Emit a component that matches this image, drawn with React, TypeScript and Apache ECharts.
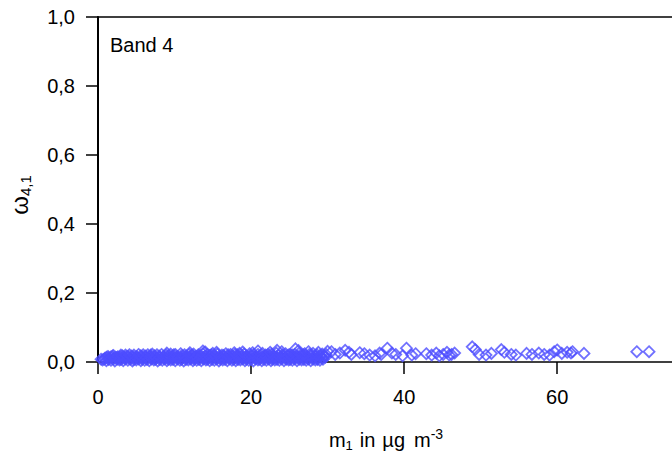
import { useEffect, useRef } from 'react';
import * as echarts from 'echarts';

// axis ranges and tick steps
const xRange = [0, 75];
const xStep = 20;
const yRange = [0, 1];
const yStep = 0.2;
const panelLabel = 'Band 4';

const cloudLow: number[][] = [
  [0.6, 0.006], [1.1, 0.004], [1.7, 0.005], [2.2, 0.003], [2.8, 0.006], [3.3, 0.004], [3.9, 0.005], [4.5, 0.003],
  [5.0, 0.006], [5.6, 0.004], [6.1, 0.005], [6.7, 0.004], [7.3, 0.006], [7.8, 0.003], [8.4, 0.005], [9.0, 0.004],
  [9.5, 0.006], [10.1, 0.004], [10.7, 0.005], [11.2, 0.003], [11.8, 0.006], [12.4, 0.004], [12.9, 0.005], [13.5, 0.004],
  [14.1, 0.006], [14.6, 0.004], [15.2, 0.005], [15.8, 0.003], [16.3, 0.006], [16.9, 0.004], [17.5, 0.005], [18.0, 0.004],
  [18.6, 0.006], [19.2, 0.004], [19.7, 0.005], [20.3, 0.003], [20.9, 0.006], [21.4, 0.004], [22.0, 0.005], [22.6, 0.004],
  [23.1, 0.006], [23.7, 0.005], [24.3, 0.004], [24.9, 0.006], [25.4, 0.005], [26.0, 0.004], [26.6, 0.006], [27.2, 0.005],
  [27.8, 0.004], [28.4, 0.006], [29.0, 0.005],
];
const cloudLow2: number[][] = [
  [0.4, 0.008], [0.8, 0.008], [1.4, 0.007], [2.0, 0.009], [2.5, 0.008], [3.0, 0.007], [3.6, 0.009], [4.2, 0.008],
  [4.7, 0.007], [5.3, 0.009], [5.8, 0.008], [6.4, 0.007], [7.0, 0.009], [7.5, 0.008], [8.1, 0.007], [8.7, 0.009],
  [9.2, 0.008], [9.8, 0.007], [10.4, 0.009], [10.9, 0.008], [11.5, 0.007], [12.1, 0.009], [12.6, 0.008], [13.2, 0.007],
  [13.8, 0.009], [14.3, 0.008], [14.9, 0.007], [15.5, 0.009], [16.0, 0.008], [16.6, 0.007], [17.2, 0.009], [17.7, 0.008],
  [18.3, 0.007], [18.9, 0.009], [19.4, 0.008], [20.0, 0.007], [20.6, 0.009], [21.1, 0.008], [21.7, 0.007], [22.3, 0.009],
  [22.8, 0.008], [23.4, 0.007], [24.0, 0.009], [24.6, 0.008], [25.1, 0.007], [25.7, 0.009], [26.3, 0.008], [26.9, 0.007],
  [27.5, 0.009], [28.1, 0.008], [28.7, 0.007], [29.4, 0.008],
];
const cloudMid: number[][] = [
  [0.9, 0.011], [1.4, 0.012], [2.0, 0.010], [2.5, 0.013], [3.1, 0.011], [3.6, 0.012], [4.2, 0.010], [4.8, 0.012],
  [5.3, 0.011], [5.9, 0.013], [6.4, 0.010], [7.0, 0.012], [7.6, 0.011], [8.1, 0.013], [8.7, 0.010], [9.3, 0.012],
  [9.8, 0.011], [10.4, 0.013], [11.0, 0.010], [11.5, 0.012], [12.1, 0.011], [12.7, 0.013], [13.2, 0.010], [13.8, 0.012],
  [14.4, 0.011], [14.9, 0.013], [15.5, 0.010], [16.1, 0.012], [16.6, 0.011], [17.2, 0.013], [17.8, 0.010], [18.3, 0.012],
  [18.9, 0.011], [19.5, 0.013], [20.0, 0.010], [20.6, 0.012], [21.2, 0.011], [21.7, 0.013], [22.3, 0.010], [22.9, 0.012],
  [23.4, 0.011], [24.0, 0.013], [24.6, 0.010], [25.2, 0.012], [25.7, 0.011], [26.3, 0.013], [26.9, 0.012], [27.5, 0.010],
  [28.1, 0.012], [28.7, 0.011], [29.3, 0.012],
];
const cloudMid2: number[][] = [
  [1.1, 0.014], [1.7, 0.015], [2.3, 0.014], [2.9, 0.015], [3.4, 0.014], [4.0, 0.015], [4.6, 0.014], [5.1, 0.015],
  [5.7, 0.014], [6.3, 0.015], [6.9, 0.014], [7.4, 0.015], [8.0, 0.014], [8.6, 0.015], [9.1, 0.014], [9.7, 0.015],
  [10.3, 0.014], [10.8, 0.015], [11.4, 0.014], [12.0, 0.015], [12.5, 0.014], [13.1, 0.015], [13.7, 0.014], [14.2, 0.015],
  [14.8, 0.014], [15.4, 0.015], [15.9, 0.014], [16.5, 0.015], [17.1, 0.014], [17.6, 0.015], [18.2, 0.014], [18.8, 0.015],
  [19.3, 0.014], [19.9, 0.015], [20.5, 0.014], [21.0, 0.015], [21.6, 0.014], [22.2, 0.015], [22.7, 0.014], [23.3, 0.015],
  [23.9, 0.014], [24.4, 0.015], [25.0, 0.014], [25.6, 0.015], [26.1, 0.014], [26.7, 0.015], [27.3, 0.014], [27.9, 0.015],
  [28.5, 0.014], [29.1, 0.015], [29.7, 0.014],
];
const cloudHigh: number[][] = [
  [1.3, 0.016], [1.9, 0.017], [2.6, 0.015], [3.2, 0.018], [3.8, 0.016], [4.4, 0.017], [5.0, 0.015], [5.6, 0.018],
  [6.2, 0.017], [6.8, 0.016], [7.4, 0.018], [8.0, 0.017], [8.6, 0.016], [9.2, 0.019], [9.8, 0.017], [10.4, 0.016],
  [11.0, 0.018], [11.6, 0.017], [12.2, 0.019], [12.8, 0.016], [13.4, 0.018], [14.0, 0.017], [14.6, 0.019], [15.2, 0.018],
  [15.8, 0.016], [16.4, 0.019], [17.0, 0.017], [17.6, 0.018], [18.2, 0.016], [18.8, 0.019], [19.4, 0.017], [20.0, 0.018],
  [20.6, 0.016], [21.2, 0.019], [21.8, 0.017], [22.4, 0.018], [23.0, 0.016], [23.6, 0.019], [24.2, 0.017], [24.8, 0.018],
  [25.4, 0.020], [26.0, 0.017], [26.6, 0.019], [27.2, 0.018], [27.8, 0.020], [28.4, 0.017], [29.0, 0.019], [29.6, 0.018],
];
const cloudUpper: number[][] = [
  [2.0, 0.019], [3.6, 0.020], [4.7, 0.020], [5.9, 0.021], [6.9, 0.020], [7.7, 0.021], [8.9, 0.020], [9.9, 0.021],
  [11.3, 0.021], [12.3, 0.020], [13.1, 0.021], [14.8, 0.021], [16.2, 0.020], [17.0, 0.021], [17.9, 0.022], [18.2, 0.021],
  [20.3, 0.021], [21.9, 0.020], [22.2, 0.022], [24.1, 0.021], [24.9, 0.020], [25.7, 0.022], [26.8, 0.021], [27.6, 0.022],
  [28.6, 0.021], [29.8, 0.022],
];
const cloudTop: number[][] = [
  [3.0, 0.020], [4.1, 0.021], [5.3, 0.022], [6.5, 0.021], [7.1, 0.023], [8.3, 0.022], [9.5, 0.023], [10.1, 0.022],
  [10.8, 0.024], [11.9, 0.022], [12.5, 0.023], [13.7, 0.024], [14.3, 0.022], [15.0, 0.025], [15.6, 0.023], [16.7, 0.024],
  [17.3, 0.022], [18.5, 0.025], [19.1, 0.023], [19.8, 0.024], [20.9, 0.022], [21.5, 0.025], [22.7, 0.023], [23.3, 0.026],
  [24.5, 0.024], [25.1, 0.022], [26.3, 0.026], [27.0, 0.024], [28.1, 0.025], [29.3, 0.023],
];
const cloudPeaks: number[][] = [
  [9.0, 0.026], [12.0, 0.027], [13.7, 0.032], [14.0, 0.029], [15.5, 0.028], [17.8, 0.027], [18.9, 0.029], [20.2, 0.027],
  [20.9, 0.032], [22.5, 0.028], [23.4, 0.034], [24.0, 0.030], [25.8, 0.038], [26.2, 0.033], [27.5, 0.030], [28.8, 0.028],
  [30.0, 0.031],
];
// sparse tail at higher mass concentrations
const sparseTail: number[][] = [
  [30.5, 0.030], [31.0, 0.022], [31.6, 0.026], [32.3, 0.034], [32.8, 0.028], [33.1, 0.022], [34.2, 0.027], [34.8, 0.024],
  [35.5, 0.020], [36.2, 0.018], [36.8, 0.026], [37.0, 0.022], [37.8, 0.040], [38.4, 0.026], [38.9, 0.022], [39.8, 0.018],
  [40.3, 0.040], [41.0, 0.020], [41.5, 0.024], [42.9, 0.024], [43.6, 0.020], [44.2, 0.026], [44.6, 0.018], [45.1, 0.022],
  [45.6, 0.028], [45.9, 0.020], [46.2, 0.022], [46.6, 0.026], [48.9, 0.044], [49.3, 0.036], [49.8, 0.022], [50.7, 0.020],
  [51.4, 0.025], [52.7, 0.036], [53.1, 0.028], [54.0, 0.022], [54.6, 0.020], [56.0, 0.025], [56.7, 0.022], [57.6, 0.026],
  [58.3, 0.022], [59.0, 0.020], [59.6, 0.030], [60.0, 0.035], [60.6, 0.025], [61.3, 0.028], [61.8, 0.026], [62.0, 0.030],
  [63.5, 0.025], [70.4, 0.030], [72.0, 0.030],
];

const FONT = '"Liberation Sans", Arial, Helvetica, sans-serif';
const MARK = '#4d4dff';

export default function App() {
  const ref = useRef<HTMLDivElement>(null);
  useEffect(() => {
    if (!ref.current) return;
    const chart = echarts.init(ref.current, null, { renderer: 'svg' });
    const data = [
      ...cloudLow, ...cloudLow2, ...cloudMid, ...cloudMid2, ...cloudHigh,
      ...cloudUpper, ...cloudTop, ...cloudPeaks, ...sparseTail,
    ];
    chart.setOption({
      animation: false,
      backgroundColor: '#ffffff',
      grid: { left: 98, right: 0, top: 17, bottom: 99, containLabel: false },
      xAxis: [
        {
          type: 'value',
          min: xRange[0],
          max: xRange[1],
          interval: xStep,
          position: 'bottom',
          splitLine: { show: false },
          axisLine: { show: true, onZero: false, lineStyle: { color: '#000', width: 1.5 } },
          axisTick: { show: true, inside: false, length: 12, lineStyle: { color: '#000', width: 1.5 } },
          axisLabel: {
            color: '#000', fontSize: 20, fontFamily: FONT, margin: 25, showMaxLabel: false,
          },
        },
        {
          type: 'value',
          min: xRange[0],
          max: xRange[1],
          position: 'top',
          splitLine: { show: false },
          axisLine: { show: true, onZero: false, lineStyle: { color: '#000', width: 1.5 } },
          axisTick: { show: false },
          axisLabel: { show: false },
        },
      ],
      yAxis: {
        type: 'value',
        min: yRange[0],
        max: yRange[1],
        interval: yStep,
        splitLine: { show: false },
        axisLine: { show: true, onZero: false, lineStyle: { color: '#000', width: 2 } },
        axisTick: { show: true, inside: false, length: 12, lineStyle: { color: '#000', width: 1.5 } },
        axisLabel: {
          color: '#000', fontSize: 20, fontFamily: FONT, margin: 23,
          formatter: (v: number) => v.toFixed(1).replace('.', ','),
        },
      },
      graphic: [
        {
          type: 'text', x: 110, y: 45,
          style: { text: panelLabel, font: `20px ${FONT}`, fill: '#000', verticalAlign: 'middle' },
        },
        {
          type: 'text', x: 386, y: 440,
          style: {
            text: '{m|m}{s|1}{g| }{m|in}{g| }{m|µg}{h| }{m|m}{p|-3}',
            align: 'center', verticalAlign: 'middle', fill: '#000',
            rich: {
              m: { fontSize: 20, fontFamily: FONT, fill: '#000' },
              g: { fontSize: 20, fontFamily: FONT, width: 7 },
              h: { fontSize: 20, fontFamily: FONT, width: 9 },
              s: { fontSize: 13, fontFamily: FONT, fill: '#000', padding: [11, 0, 0, 0] },
              p: { fontSize: 14, fontFamily: FONT, fill: '#000', padding: [0, 0, 12, 0] },
            },
          },
        },
        {
          type: 'text', x: 19, y: 195, rotation: Math.PI / 2,
          style: {
            text: '{w|ω}{s|4,1}',
            align: 'center', verticalAlign: 'middle', fill: '#000',
            rich: {
              w: { fontSize: 24, fontFamily: FONT, fill: '#000' },
              s: { fontSize: 15, fontFamily: FONT, fill: '#000', padding: [12, 0, 0, 0] },
            },
          },
        },
      ],
      series: [
        {
          type: 'scatter',
          xAxisIndex: 0,
          yAxisIndex: 0,
          data,
          symbol: 'diamond',
          symbolSize: 11,
          itemStyle: { color: 'rgba(0,0,0,0)', borderColor: MARK, borderWidth: 1.8 },
          emphasis: { disabled: true },
        },
      ],
    });
    return () => chart.dispose();
  }, []);
  return <div ref={ref} style={{ position: 'absolute', left: 0, top: 0, width: 672, height: 461 }} />;
}
